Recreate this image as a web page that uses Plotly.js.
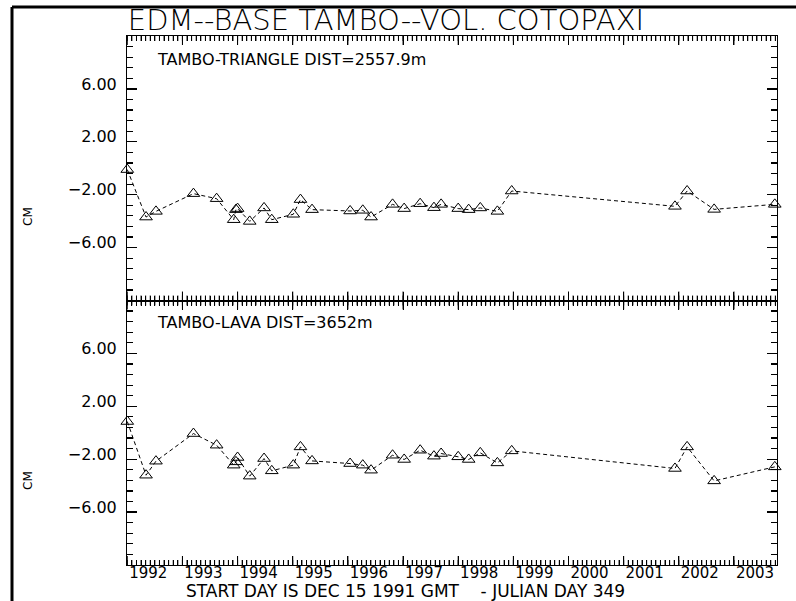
<!DOCTYPE html>
<html>
<head>
<meta charset="utf-8">
<script src="https://cdn.plot.ly/plotly-3.0.1.min.js"></script>
<style>html,body{margin:0;padding:0;background:#fff;}#chart{width:796px;height:601px;}</style>
</head>
<body>
<div id="chart"></div>
<script>
// Decimal-year survey dates (shared by both baselines)
const dates = [1992.00, 1992.34, 1992.52, 1993.20, 1993.62, 1993.93, 1993.97, 1994.00, 1994.22, 1994.48,
               1994.62, 1995.01, 1995.14, 1995.35, 1996.04, 1996.27, 1996.42, 1996.81, 1997.02, 1997.31,
               1997.56, 1997.69, 1998.00, 1998.19, 1998.40, 1998.71, 1998.97, 2001.93, 2002.15, 2002.64, 2003.74];
// TAMBO-TRIANGLE (cm)
const triangleCm = [-0.10, -3.69, -3.26, -1.92, -2.30, -3.89, -3.13, -3.05, -4.02, -3.00,
                    -3.89, -3.48, -2.37, -3.13, -3.23, -3.18, -3.69, -2.73, -3.05, -2.68,
                    -2.98, -2.73, -3.05, -3.13, -3.00, -3.26, -1.72, -2.88, -1.72, -3.11, -2.73];
// TAMBO-LAVA (cm)
const lavaCm = [0.85, -3.21, -2.15, -0.06, -0.94, -2.45, -2.20, -1.87, -3.28, -1.95,
                -2.88, -2.45, -1.07, -2.13, -2.33, -2.45, -2.83, -1.70, -2.02, -1.32,
                -1.77, -1.57, -1.82, -2.02, -1.52, -2.28, -1.37, -2.70, -1.07, -3.64, -2.58];
const yTickVals = [-6, -2, 2, 6];
const yTickLabels = ['\u22126.00', '\u22122.00', '2.00', '6.00'];
const chartTitle = 'EDM--BASE TAMBO--VOL. COTOPAXI';
const panelLabels = ['TAMBO-TRIANGLE DIST=2557.9m', 'TAMBO-LAVA DIST=3652m'];
const bottomNote = 'START DAY IS DEC 15 1991 GMT\u00a0\u00a0\u00a0\u00a0- JULIAN DAY 349';
const unitLabel = 'CM';

const black = '#000000';
const xRange = [1991.995, 2003.78];
const traceStyle = {
  type: 'scatter', mode: 'lines+markers', cliponaxis: false,
  line: {color: black, width: 1, dash: '4px,3px'},
  marker: {symbol: 'triangle-up-open', size: 11, color: black, line: {color: black, width: 1}},
  hoverinfo: 'skip'
};
const data = [
  Object.assign({}, traceStyle, {x: dates, y: triangleCm, xaxis: 'x2', yaxis: 'y2'}),
  Object.assign({}, traceStyle, {x: dates, y: lavaCm, xaxis: 'x', yaxis: 'y'})
];

function xAxis(anchor, labels) {
  return {
    anchor: anchor, domain: [0, 1], range: xRange,
    tickmode: 'linear', tick0: 1992, dtick: 1,
    ticks: 'inside', ticklen: 9, tickwidth: 1, tickcolor: black,
    showline: true, linecolor: black, linewidth: 1, mirror: 'allticks',
    showgrid: false, zeroline: false, showticklabels: labels,
    tickfont: {size: 15, color: black, family: 'DejaVu Sans'},
    ticklabelshift: 21, ticklabelstandoff: -6,
    minor: {tick0: 1992, dtick: 1/12, ticks: 'inside', ticklen: 5, tickwidth: 1, tickcolor: black, showgrid: false}
  };
}
function yAxis(anchor, domain) {
  return {
    anchor: anchor, domain: domain, range: [-10, 10],
    tickmode: 'array', tickvals: yTickVals, ticktext: yTickLabels,
    ticks: 'inside', ticklen: 10, tickwidth: 1.2, tickcolor: black,
    showline: true, linecolor: black, linewidth: 1, mirror: 'allticks',
    showgrid: false, zeroline: false,
    tickfont: {size: 16, color: black, family: 'DejaVu Sans'},
    ticklabelshift: -5, ticklabelstandoff: 6,
    minor: {tick0: 2, dtick: 0.8, ticks: 'inside', ticklen: 6, tickwidth: 1.2, tickcolor: black, showgrid: false}
  };
}
const xa2 = xAxis('y2', false); xa2.matches = 'x';

// Backup drawing of the x-axis tick combs (yearly majors, monthly minors) as path shapes
// placed in x data coordinates, so they follow the axis scale.
const plotHeightPx = 529;
function combPath(step, lenPx, edges) {
  let d = '';
  const start = Math.ceil((xRange[0] - 1e-9) / step) * step;
  for (let v = start; v <= xRange[1] + 1e-9; v += step) {
    edges.forEach(function (e) {
      d += 'M' + v.toFixed(5) + ',' + e.y.toFixed(5) + 'L' + v.toFixed(5) + ',' + (e.y + e.dir * lenPx / plotHeightPx).toFixed(5);
    });
  }
  return d;
}
// edges: bottom of lower (0, up), top of lower (0.5, down), bottom of upper (0.5, up), top of upper (1, down)
const combEdges = [{y: 0, dir: 1}, {y: 0.5, dir: -1}, {y: 0.5, dir: 1}, {y: 1, dir: -1}];
const combShapes = [
  {type: 'path', xref: 'x', yref: 'paper', path: combPath(1/12, 5, combEdges), line: {color: black, width: 1}},
  {type: 'path', xref: 'x', yref: 'paper', path: combPath(1, 9, combEdges), line: {color: black, width: 1}}
];

const layout = {
  width: 796, height: 601,
  margin: {l: 127, r: 19, t: 36, b: 36},
  paper_bgcolor: '#ffffff', plot_bgcolor: '#ffffff', showlegend: false,
  font: {family: 'DejaVu Sans', color: black},
  title: {text: chartTitle, font: {size: 29, color: black, family: 'DejaVu Sans', weight: 200},
          xref: 'container', yref: 'container', x: 386/796, xanchor: 'center', y: 1 - 20/601, yanchor: 'middle'},
  xaxis: xAxis('y', true),
  xaxis2: xa2,
  yaxis: yAxis('x', [0, 0.5]),
  yaxis2: yAxis('x2', [0.5, 1]),
  annotations: [
    {text: panelLabels[0], xref: 'paper', yref: 'paper', x: (155-127)/650, y: (565-60)/529, xanchor: 'left', yanchor: 'middle', showarrow: false, font: {size: 16}},
    {text: panelLabels[1], xref: 'paper', yref: 'paper', x: (155-127)/650, y: (565-322)/529, xanchor: 'left', yanchor: 'middle', showarrow: false, font: {size: 16}},
    {text: unitLabel, xref: 'paper', yref: 'paper', x: (28-127)/650, y: (565-217)/529, xanchor: 'center', yanchor: 'middle', textangle: -90, showarrow: false, font: {size: 12}},
    {text: unitLabel, xref: 'paper', yref: 'paper', x: (28-127)/650, y: (565-481)/529, xanchor: 'center', yanchor: 'middle', textangle: -90, showarrow: false, font: {size: 12}},
    {text: bottomNote, xref: 'paper', yref: 'paper', x: (405-127)/650, y: (565-591)/529, xanchor: 'center', yanchor: 'middle', showarrow: false, font: {size: 17}}
  ],
  shapes: [
    {type: 'line', xref: 'paper', yref: 'paper', x0: (12-127)/650, x1: (12-127)/650, y0: (565-7)/529, y1: (565-605)/529, line: {color: black, width: 3}},
    {type: 'line', xref: 'paper', yref: 'paper', x0: (12-127)/650, x1: (800-127)/650, y0: (565-7)/529, y1: (565-7)/529, line: {color: black, width: 3}}
  ].concat(combShapes)
};

Plotly.newPlot('chart', data, layout, {displayModeBar: false, staticPlot: true});
</script>
</body>
</html>
